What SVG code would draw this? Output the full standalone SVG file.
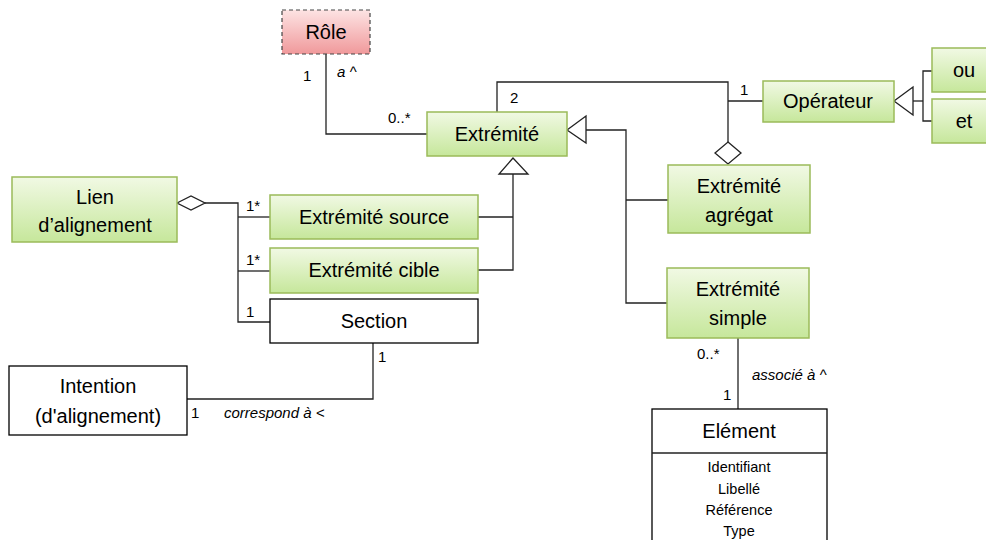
<svg xmlns="http://www.w3.org/2000/svg" width="986" height="540" viewBox="0 0 986 540">
<defs>
<linearGradient id="g" x1="0" y1="0" x2="0" y2="1"><stop offset="0" stop-color="#f1f9e4"/><stop offset="1" stop-color="#c6e79b"/></linearGradient>
<linearGradient id="r" x1="0" y1="0" x2="0" y2="1"><stop offset="0" stop-color="#fde3e3"/><stop offset="1" stop-color="#f0999b"/></linearGradient>
<style>
text{font-family:"Liberation Sans",Arial,sans-serif;fill:#000}
.n{font-size:20px;text-anchor:middle}
.s{font-size:15px}
.i{font-size:15px;font-style:italic}
.a{font-size:14.5px;text-anchor:middle}
.gb{fill:url(#g);stroke:#9bbb59;stroke-width:1.5}
.wb{fill:#fff;stroke:#000;stroke-width:1.3}
.c{fill:none;stroke:#222;stroke-width:1.3}
.h{fill:#fff;stroke:#222;stroke-width:1.3}
</style>
</defs>
<g id="connectors">
<polyline class="c" points="326,54 326,134 427,134"/>
<polyline class="c" points="497,112 497,82 728,82 728,142"/>
<line class="c" x1="728" y1="101" x2="763" y2="101"/>
<polygon class="h" points="728,142 741,153 728,164 715,153"/>
<polygon class="h" points="894,101 913,87 913,115"/>
<polyline class="c" points="913,101 923,101"/>
<polyline class="c" points="932,71 923,71 923,121 932,121"/>
<polygon class="h" points="567,130 586,116 586,143"/>
<polyline class="c" points="586,130 626,130 626,303 667,303"/>
<line class="c" x1="626" y1="200" x2="668" y2="200"/>
<polygon class="h" points="513,158 499,174 528,174"/>
<polyline class="c" points="513,174 513,270 478,270"/>
<line class="c" x1="478" y1="217" x2="513" y2="217"/>
<polygon class="h" points="177,203 191,196 205,203 191,210"/>
<polyline class="c" points="205,203 238,203 238,322 270,322"/>
<line class="c" x1="238" y1="217" x2="270" y2="217"/>
<line class="c" x1="238" y1="271" x2="270" y2="271"/>
<polyline class="c" points="187,399 373,399 373,343"/>
<line class="c" x1="738" y1="338" x2="738" y2="409"/>
<text class="s" x="303" y="81">1</text>
<text class="i" x="337" y="77">a ^</text>
<text class="s" x="388" y="123">0..*</text>
<text class="s" x="510" y="103">2</text>
<text class="s" x="740" y="95">1</text>
<text class="s" x="246" y="211">1*</text>
<text class="s" x="246" y="265">1*</text>
<text class="s" x="246" y="317">1</text>
<text class="s" x="378" y="362">1</text>
<text class="s" x="191" y="418">1</text>
<text class="i" x="224" y="418">correspond à &lt;</text>
<text class="s" x="697" y="359">0..*</text>
<text class="i" x="752" y="380">associé à ^</text>
<text class="s" x="723" y="400">1</text>
</g>
<g id="role"><rect x="282" y="10" width="88" height="44" fill="url(#r)" stroke="#444" stroke-width="1.2" stroke-dasharray="4,3"/><text class="n" x="326" y="39">Rôle</text></g>
<g id="extremite"><rect class="gb" x="427" y="112" width="140" height="44"/><text class="n" x="497" y="141">Extrémité</text></g>
<g id="operateur"><rect class="gb" x="763" y="81" width="131" height="41"/><text class="n" x="828" y="108">Opérateur</text></g>
<g id="ou"><rect class="gb" x="932" y="48" width="70" height="44"/><text class="n" x="964" y="77">ou</text></g>
<g id="et"><rect class="gb" x="932" y="99" width="70" height="44"/><text class="n" x="964" y="128">et</text></g>
<g id="extremite-agregat"><rect class="gb" x="668" y="165" width="142" height="68"/><text class="n" x="739" y="193">Extrémité</text><text class="n" x="739" y="222">agrégat</text></g>
<g id="extremite-simple"><rect class="gb" x="667" y="268" width="142" height="70"/><text class="n" x="738" y="296">Extrémité</text><text class="n" x="738" y="325">simple</text></g>
<g id="lien"><rect class="gb" x="12" y="177" width="165" height="65"/><text class="n" x="95" y="204">Lien</text><text class="n" x="95" y="232">d’alignement</text></g>
<g id="extremite-source"><rect class="gb" x="270" y="195" width="208" height="44"/><text class="n" x="374" y="224">Extrémité source</text></g>
<g id="extremite-cible"><rect class="gb" x="270" y="248" width="208" height="45"/><text class="n" x="374" y="277">Extrémité cible</text></g>
<g id="section"><rect class="wb" x="270" y="299" width="208" height="44"/><text class="n" x="374" y="328">Section</text></g>
<g id="intention"><rect class="wb" x="9" y="366" width="178" height="69"/><text class="n" x="98" y="393">Intention</text><text class="n" x="98" y="423">(d'alignement)</text></g>
<g id="element"><rect class="wb" x="652" y="409" width="175" height="140"/><line class="c" x1="652" y1="453" x2="827" y2="453"/><text class="n" x="739" y="438">Elément</text><text class="a" x="739" y="472">Identifiant</text><text class="a" x="739" y="494">Libellé</text><text class="a" x="739" y="515">Référence</text><text class="a" x="739" y="536">Type</text></g>
</svg>
